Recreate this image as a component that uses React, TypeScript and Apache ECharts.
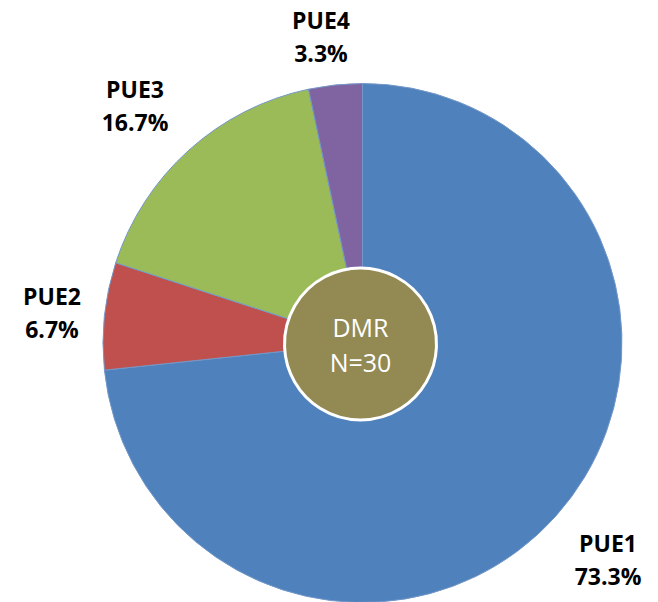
import React, { useEffect, useRef } from "react";
import * as echarts from "echarts";

const categories = ["PUE1", "PUE2", "PUE3", "PUE4"];
const counts = [22, 2, 5, 1];
const sliceColors = ["#4F81BD", "#C0504D", "#9BBB59", "#8064A2"];
const centerLines = ["DMR", "N=30"];
// label anchor positions (block centers) per slice, in px
const labelAnchors = [
  [608, 559],
  [52, 312],
  [135, 105],
  [321, 36],
];

export default function App() {
  const ref = useRef<HTMLDivElement>(null);
  useEffect(() => {
    if (!ref.current) return;
    const chart = echarts.init(ref.current, null, { renderer: "svg" });
    chart.setOption({
      animation: false,
      backgroundColor: "#ffffff",
      series: [
        {
          type: "pie",
          center: [362.5, 343],
          radius: [0, 259.5],
          startAngle: 90,
          clockwise: true,
          percentPrecision: 1,
          silent: true,
          avoidLabelOverlap: false,
          itemStyle: { borderColor: "#7398c8", borderWidth: 1 },
          label: {
            show: true,
            position: "outside",
            formatter: "{b}\n{d}%",
            fontFamily: "Open Sans",
            fontWeight: "bold",
            fontSize: 23,
            lineHeight: 33,
            color: "#000000",
            align: "center",
            overflow: "none",
            width: 120,
            edgeDistance: 0,
          },
          labelLine: { show: false },
          labelLayout: (params: any) => {
            const p = labelAnchors[params.dataIndex];
            return { x: p[0], y: p[1], align: "center", verticalAlign: "middle" };
          },
          data: categories.map((name, i) => ({
            name,
            value: counts[i],
            itemStyle: { color: sliceColors[i] },
          })),
        },
        {
          type: "pie",
          center: [360.5, 344],
          radius: [0, 76],
          silent: true,
          z: 5,
          itemStyle: { color: "#938953", borderColor: "#ffffff", borderWidth: 3 },
          label: {
            show: true,
            position: "center",
            formatter: centerLines.join("\n"),
            fontFamily: "Open Sans",
            fontSize: 25,
            lineHeight: 35,
            color: "#ffffff",
            padding: [0, 0, 4, 0],
          },
          labelLine: { show: false },
          data: [{ name: "DMR", value: 1 }],
        },
      ],
    });
    return () => chart.dispose();
  }, []);
  return (
    <div
      ref={ref}
      style={{ position: "absolute", left: 0, top: 0, width: 658, height: 602 }}
    />
  );
}
